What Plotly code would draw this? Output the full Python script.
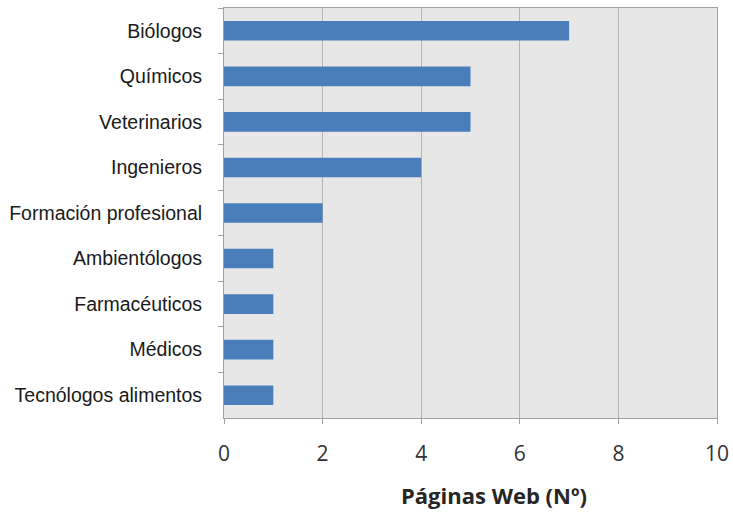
import plotly.graph_objects as go

categorias = [
    "Biólogos",
    "Químicos",
    "Veterinarios",
    "Ingenieros",
    "Formación profesional",
    "Ambientólogos",
    "Farmacéuticos",
    "Médicos",
    "Tecnólogos alimentos",
]
paginas = [7, 5, 5, 4, 2, 1, 1, 1, 1]
x_ticks = [0, 2, 4, 6, 8, 10]

fig = go.Figure()
fig.add_trace(
    go.Bar(
        x=paginas,
        y=categorias,
        orientation="h",
        width=0.43,
        marker={"color": "#4a7ebb", "line": {"width": 0}},
        hoverinfo="skip",
    )
)

fig.update_layout(
    width=733,
    height=516,
    margin=dict(l=224, r=16, t=8, b=98),
    paper_bgcolor="white",
    plot_bgcolor="#e7e7e7",
    showlegend=False,
)

fig.update_xaxes(
    range=[0, 10],
    tickvals=x_ticks,
    ticks="outside",
    ticklen=5,
    tickcolor="#a0a0a0",
    ticklabelstandoff=12,
    ticklabeloverflow="allow",
    automargin=False,
    tickfont=dict(family="Open Sans", size=21, color="#333333"),
    showgrid=True,
    gridcolor="#b4b4b4",
    gridwidth=1,
    zeroline=False,
    showline=True,
    linecolor="#a0a0a0",
    mirror=True,
)

fig.update_yaxes(
    autorange="reversed",
    ticks="outside",
    tickson="boundaries",
    ticklen=5,
    tickcolor="#a0a0a0",
    ticklabelstandoff=17,
    automargin=False,
    tickfont=dict(family="Liberation Sans", size=19.5, color="#1a1a1a"),
    showgrid=False,
    showline=True,
    linecolor="#a0a0a0",
    mirror=True,
)

fig.add_annotation(
    text="<b>Páginas Web (Nº)</b>",
    xref="paper",
    yref="paper",
    x=0.548,
    y=0,
    yanchor="middle",
    yshift=-77,
    showarrow=False,
    font=dict(family="Open Sans", size=22, color="#262626"),
)

# drop the default page margin so the 733x516 figure fills the window
fig.write_html(
    "out.html",
    config={"displayModeBar": False},
    post_script="document.body.style.margin='0';",
)
